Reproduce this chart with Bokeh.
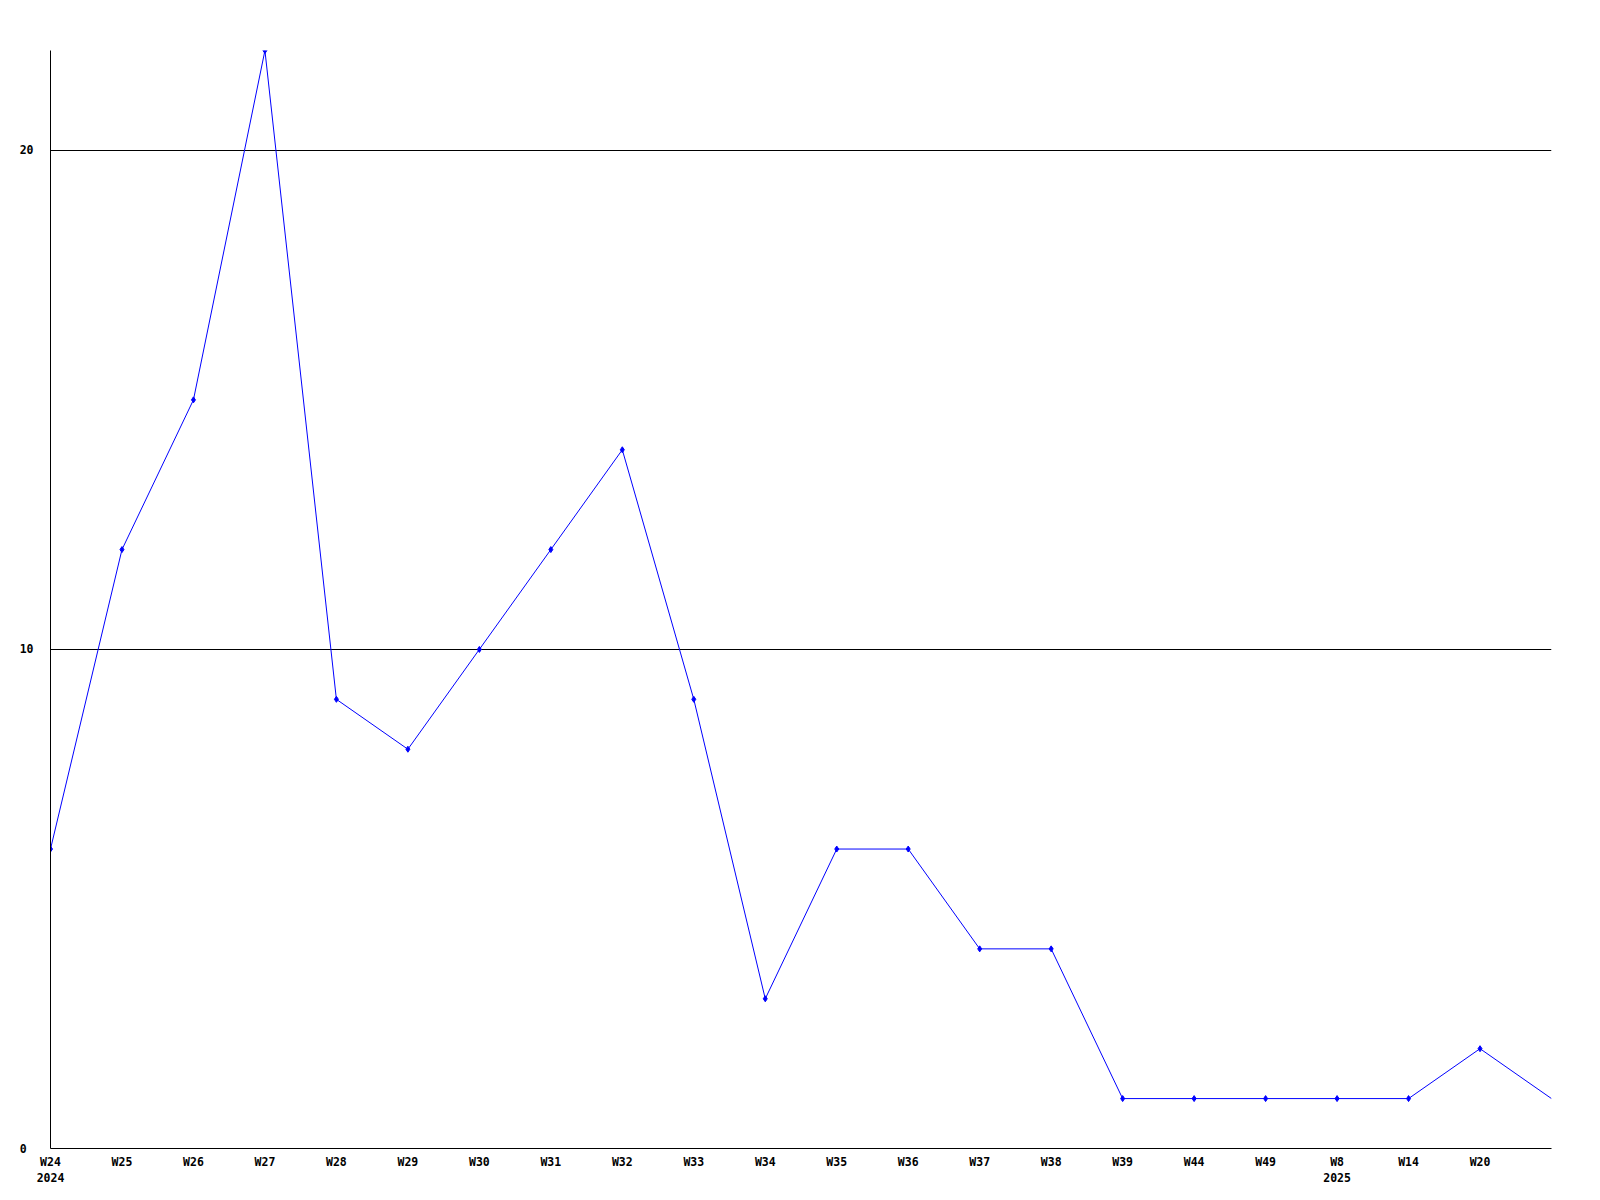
from bokeh.plotting import figure
from bokeh.models import FixedTicker, Range1d
from bokeh.embed import file_html
from bokeh.resources import INLINE

weeks = ["W24\n2024", "W25", "W26", "W27", "W28", "W29", "W30", "W31", "W32", "W33",
         "W34", "W35", "W36", "W37", "W38", "W39", "W44", "W49", "W8\n2025", "W14", "W20", ""]
values = [6, 12, 15, 22, 9, 8, 10, 12, 14, 9, 3, 6, 6, 4, 4, 1, 1, 1, 1, 1, 2, 1]
y_ticks = [0, 10, 20]

xs = list(range(len(values)))

p = figure(width=1588, height=1188, output_backend="svg", toolbar_location=None,
           x_range=Range1d(0, len(values) - 1), y_range=Range1d(0, 22),
           min_border_left=50, min_border_top=50, min_border_bottom=38, min_border_right=37)
p.outline_line_color = None
p.background_fill_color = "white"
p.border_fill_color = "white"

p.line(xs, values, line_color="#0000ff", line_width=1)
p.scatter(xs[:-1], values[:-1], marker="diamond", size=6, fill_color="#0000ff", line_color="#0000ff")

font = "DejaVu Sans Mono"
for ax in (p.xaxis[0], p.yaxis[0]):
    ax.axis_line_color = "black"
    ax.axis_line_width = 1
    ax.major_tick_line_color = None
    ax.minor_tick_line_color = None
    ax.major_tick_out = 0
    ax.major_tick_in = 0
    ax.minor_tick_out = 0
    ax.major_label_text_font = font
    ax.major_label_text_font_style = "bold"
    ax.major_label_text_font_size = "11.5px"
    ax.major_label_text_color = "black"

p.xaxis.ticker = FixedTicker(ticks=xs[:-1])
p.xaxis.major_label_overrides = {i: w for i, w in enumerate(weeks) if w}
p.xaxis.major_label_standoff = 6

p.yaxis.ticker = FixedTicker(ticks=y_ticks)
p.yaxis.major_label_overrides = {0: "0\u00a0", 10: "10", 20: "20"}
p.yaxis.major_label_standoff = 17

p.xgrid.grid_line_color = None
p.ygrid.ticker = FixedTicker(ticks=y_ticks)
p.ygrid.grid_line_color = "black"
p.ygrid.grid_line_width = 1

open("out.html", "w").write(file_html(p, INLINE))
